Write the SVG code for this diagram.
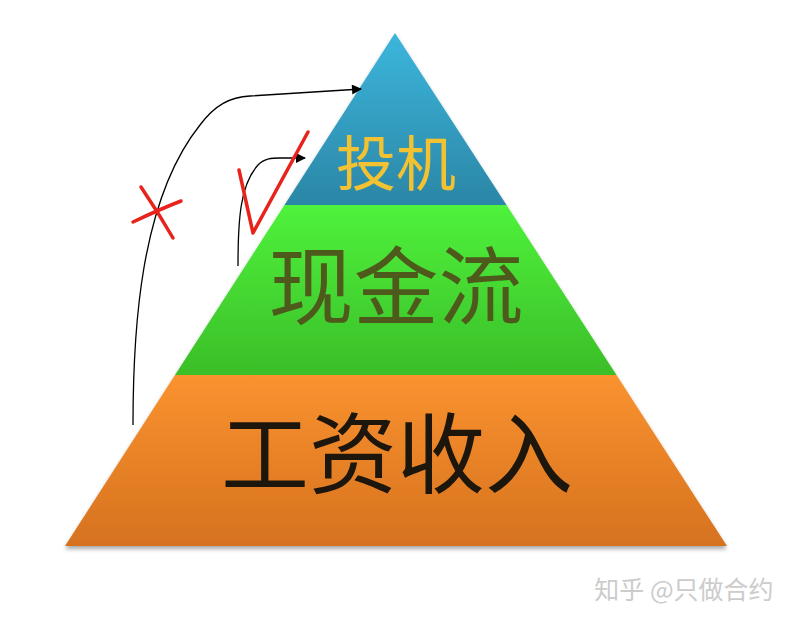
<svg xmlns="http://www.w3.org/2000/svg" width="804" height="621" viewBox="0 0 804 621">
<style>
.lbl{font-family:"Noto Sans CJK SC","Noto Sans",sans-serif;text-anchor:middle}
.con{fill:none;stroke:#000;stroke-width:1.3}
.red{fill:none;stroke:#e8231c;stroke-width:3.5;stroke-linecap:round;stroke-linejoin:round}
</style>
<defs>
<linearGradient id="gb" x1="0" y1="0" x2="0" y2="1"><stop offset="0" stop-color="#3cb6dc"/><stop offset="1" stop-color="#2b86a6"/></linearGradient>
<linearGradient id="gg" x1="0" y1="0" x2="0" y2="1"><stop offset="0" stop-color="#4ff23c"/><stop offset="1" stop-color="#3bbe28"/></linearGradient>
<linearGradient id="go" x1="0" y1="0" x2="0" y2="1"><stop offset="0" stop-color="#fa922f"/><stop offset="1" stop-color="#d6721f"/></linearGradient>
<marker id="ah" viewBox="0 0 10 10" refX="9" refY="5" markerWidth="11" markerHeight="10" orient="auto" markerUnits="userSpaceOnUse"><path d="M0,0L10,5L0,10z" fill="#000"/></marker>
<filter id="sh" x="-5%" y="-5%" width="110%" height="115%"><feGaussianBlur in="SourceAlpha" stdDeviation="2"/><feOffset dy="3"/><feComponentTransfer><feFuncA type="linear" slope="0.35"/></feComponentTransfer><feMerge><feMergeNode/><feMergeNode in="SourceGraphic"/></feMerge></filter>
</defs>
<rect width="804" height="621" fill="#fff"/>
<g id="pyramid" filter="url(#sh)">
<g id="top"><polygon points="395,33 284.5,205 506.5,205" fill="url(#gb)"/><text class="lbl" x="396" y="186" font-size="60" fill="#f2c232">投机</text></g>
<g id="middle"><polygon points="284.5,205 506.5,205 616.5,375 175,375" fill="url(#gg)"/><text class="lbl" x="396" y="318" font-size="85" fill="#4e5a1e">现金流</text></g>
<g id="bottom"><polygon points="175,375 616.5,375 727,546 65,546" fill="url(#go)"/><text class="lbl" x="397" y="486" font-size="88" fill="#1a140c">工资收入</text></g>
</g>
<g id="connectors">
<path class="con" d="M133,425 C133,330 140,200 200,125 C215,105 230,97 250,96 L361,89" marker-end="url(#ah)"/>
<path class="con" d="M238,266 C238,220 240,185 258,165 C265,158 272,158 280,158 L305,158" marker-end="url(#ah)"/>
</g>
<g id="marks">
<path class="red" d="M141,187 Q158,212 173,238"/>
<path class="red" d="M133,222 Q158,210 181,201"/>
<path class="red" d="M239,170 L253,233 L308,132"/>
</g>
<text x="684" y="599" font-family="Noto Sans CJK SC,sans-serif" font-size="25" text-anchor="middle" fill="#cccccc">知乎 @只做合约</text>
</svg>
